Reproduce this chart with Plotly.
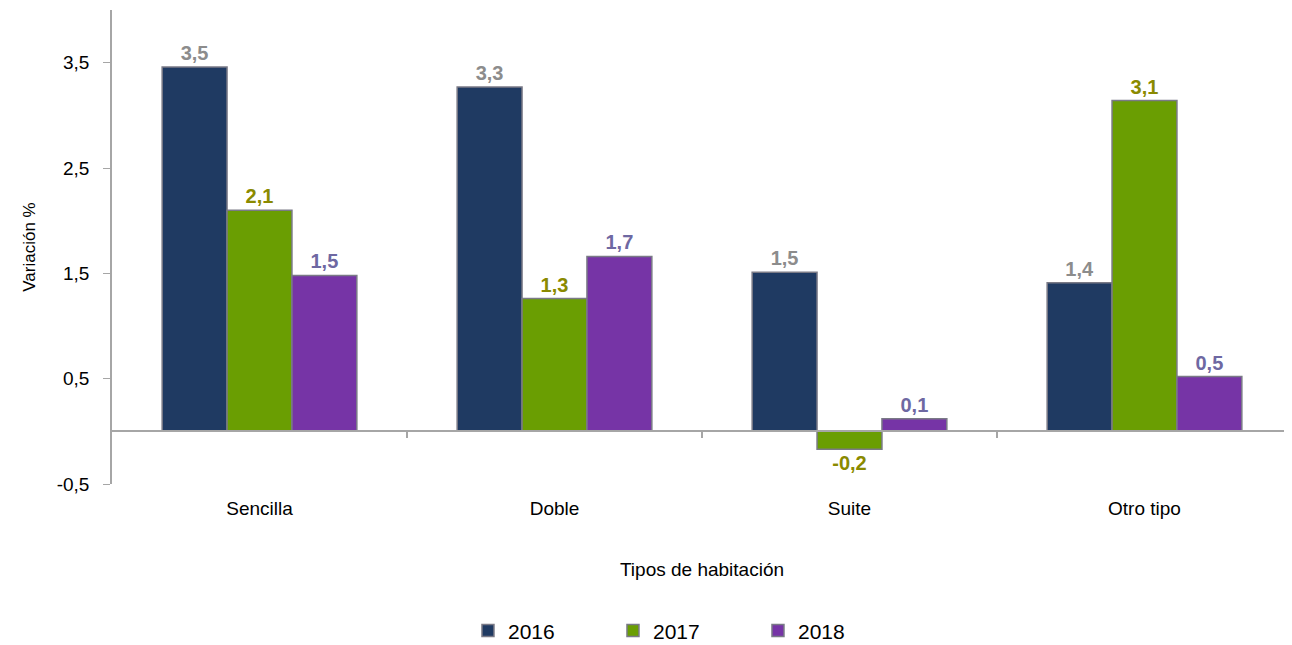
import plotly.graph_objects as go

categories = ["Sencilla", "Doble", "Suite", "Otro tipo"]
years = ["2016", "2017", "2018"]
v2016 = [3.46, 3.27, 1.51, 1.41]
v2017 = [2.10, 1.26, -0.17, 3.14]
v2018 = [1.48, 1.66, 0.12, 0.52]
y_ticks = [-0.5, 0.5, 1.5, 2.5, 3.5]

series = [v2016, v2017, v2018]
bar_colors = ["#1f3a62", "#6a9e02", "#7634a6"]
label_colors = ["#8c8c8c", "#8a8a00", "#6e68a2"]

def fmt(v):
    return f"{v:.1f}".replace(".", ",")

fig = go.Figure()
for name, vals, bc, lc in zip(years, series, bar_colors, label_colors):
    fig.add_trace(go.Bar(
        x=categories, y=vals, name=name,
        marker=dict(color=bc, line=dict(color="#7a7a86", width=1.5)),
        text=["<b>" + fmt(v) + "</b>" for v in vals], textposition="outside",
        constraintext="none",
        textfont=dict(family="Liberation Sans, Arial", size=20, color=lc),
        cliponaxis=False,
    ))

# line at zero with boundary tick marks
fig.add_trace(go.Scatter(x=[0], y=[0], xaxis="x2", mode="markers",
                         marker=dict(opacity=0), showlegend=False, hoverinfo="skip"))

fig.update_layout(
    width=1284, height=637,
    paper_bgcolor="white", plot_bgcolor="white",
    margin=dict(l=104, r=0, t=2, b=161, autoexpand=False),
    separators=", ",
    barmode="group", bargap=0.34, bargroupgap=0,
    font=dict(family="Liberation Sans, Arial", size=18, color="#000000"),
    showlegend=True,
    legend=dict(orientation="h", x=0.486, xanchor="center", y=-0.31, yanchor="middle",
                font=dict(size=21), traceorder="normal", itemwidth=30,
                entrywidth=100),
    xaxis=dict(type="category", showline=False, ticks="", showgrid=False,
               zeroline=False, tickfont=dict(size=19), ticklabelstandoff=11,
               title=dict(text="Tipos de habitación", font=dict(size=19), standoff=44)),
    xaxis2=dict(overlaying="x", anchor="free", position=(0 + 0.5) / 4.5,
                range=[0, 4], tickvals=[1, 2, 3], ticks="outside", ticklen=6,
                tickcolor="#a6a6a6", tickwidth=2, showticklabels=False,
                showline=True, linecolor="#a6a6a6", linewidth=1.5,
                showgrid=False, zeroline=False),
    yaxis=dict(range=[-0.5, 4.0], tickvals=y_ticks, ticktext=[fmt(t) for t in y_ticks],
               showline=True, linecolor="#a6a6a6", linewidth=1.5,
               ticks="outside", ticklen=7, tickcolor="#a6a6a6",
               showgrid=False, zeroline=False, tickfont=dict(size=19),
               ticklabelstandoff=10,
               title=dict(text="Variación %", font=dict(size=17), standoff=17)),
)

fig.write_html("out.html")
